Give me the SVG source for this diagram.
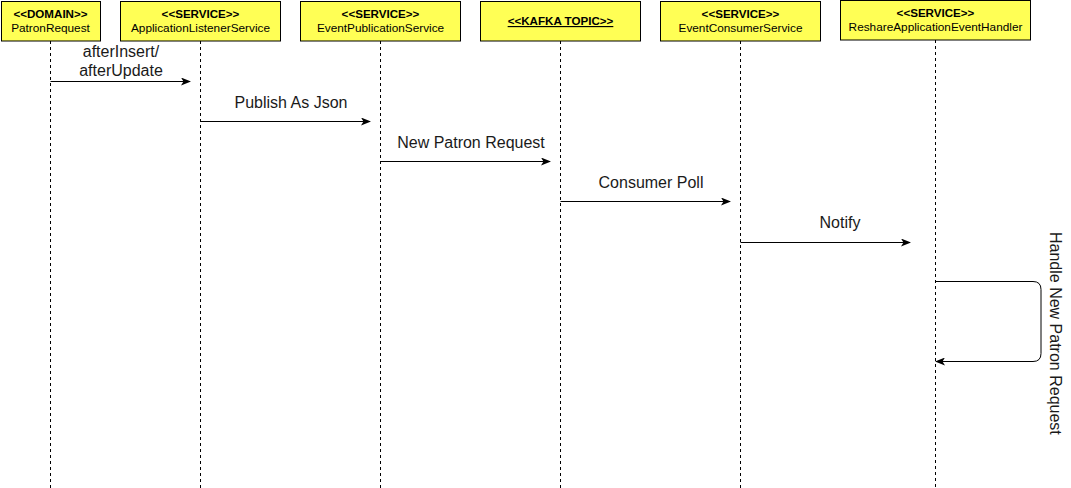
<svg xmlns="http://www.w3.org/2000/svg" width="1071" height="488" viewBox="0 0 1071 488">
<defs>
<style>
.box{fill:#ffff55;stroke:#000;stroke-width:1}
.life{stroke:#000;stroke-width:1;stroke-dasharray:3 3;fill:none}
.st{font-family:"Liberation Sans",Arial,sans-serif;font-size:11.6px;font-weight:bold;text-anchor:middle;fill:#000}
.nm{font-family:"Liberation Sans",Arial,sans-serif;font-size:11.8px;text-anchor:middle;fill:#000}
.msg{stroke:#000;stroke-width:1;fill:none;marker-end:url(#ah)}
.lbl{font-family:"Liberation Sans",Arial,sans-serif;font-size:16px;text-anchor:middle;fill:#1a1a1a}
</style>
<marker id="ah" markerWidth="10" markerHeight="8" refX="9" refY="4" orient="auto" markerUnits="userSpaceOnUse">
<path d="M0,0 L10,4 L0,8 L2.5,4 Z" fill="#000"/>
</marker>
</defs>
<rect width="1071" height="488" fill="#fff"/>
<g id="lifelines">
<line class="life" x1="50.5" y1="41" x2="50.5" y2="488"/>
<line class="life" x1="200.5" y1="41" x2="200.5" y2="488"/>
<line class="life" x1="380.5" y1="41" x2="380.5" y2="488"/>
<line class="life" x1="560.5" y1="41" x2="560.5" y2="488"/>
<line class="life" x1="740.5" y1="41" x2="740.5" y2="488"/>
<line class="life" x1="935.5" y1="40" x2="935.5" y2="488"/>
</g>
<g id="node-patronrequest">
<rect class="box" x="1.5" y="1.5" width="99" height="39.5"/>
<text class="st" x="50.5" y="18">&lt;&lt;DOMAIN&gt;&gt;</text>
<text class="nm" x="50.5" y="32">PatronRequest</text>
</g>
<g id="node-applicationlistener">
<rect class="box" x="120.5" y="1.5" width="160" height="39.5"/>
<text class="st" x="200.5" y="18">&lt;&lt;SERVICE&gt;&gt;</text>
<text class="nm" x="200.5" y="32">ApplicationListenerService</text>
</g>
<g id="node-eventpublication">
<rect class="box" x="300.5" y="1.5" width="160" height="39.5"/>
<text class="st" x="380.5" y="18">&lt;&lt;SERVICE&gt;&gt;</text>
<text class="nm" x="380.5" y="32">EventPublicationService</text>
</g>
<g id="node-kafka">
<rect class="box" x="480.5" y="1.5" width="160" height="39.5"/>
<text class="st" x="560.5" y="25" text-decoration="underline">&lt;&lt;KAFKA TOPIC&gt;&gt;</text>
</g>
<g id="node-eventconsumer">
<rect class="box" x="660.5" y="1.5" width="160" height="39.5"/>
<text class="st" x="740.5" y="18">&lt;&lt;SERVICE&gt;&gt;</text>
<text class="nm" x="740.5" y="32">EventConsumerService</text>
</g>
<g id="node-reshare">
<rect class="box" x="840.5" y="0.5" width="190" height="39.5"/>
<text class="st" x="935.5" y="17">&lt;&lt;SERVICE&gt;&gt;</text>
<text class="nm" x="935.5" y="31">ReshareApplicationEventHandler</text>
</g>
<g id="connectors">
<line class="msg" x1="50.5" y1="81.5" x2="190" y2="81.5"/>
<text class="lbl" x="121" y="57">afterInsert/</text>
<text class="lbl" x="121" y="76">afterUpdate</text>
<line class="msg" x1="200.5" y1="121.5" x2="370" y2="121.5"/>
<text class="lbl" x="291" y="108">Publish As Json</text>
<line class="msg" x1="380.5" y1="161.5" x2="550" y2="161.5"/>
<text class="lbl" x="471" y="148">New Patron Request</text>
<line class="msg" x1="560.5" y1="201.5" x2="730" y2="201.5"/>
<text class="lbl" x="651" y="188">Consumer Poll</text>
<line class="msg" x1="740.5" y1="242.5" x2="910" y2="242.5"/>
<text class="lbl" x="840" y="228">Notify</text>
<path class="msg" d="M935.5,281.5 H1033 Q1041,281.5 1041,289.5 V353.5 Q1041,361.5 1033,361.5 H936"/>
<text class="lbl" style="text-anchor:start" transform="translate(1050,232) rotate(90)">Handle New Patron Request</text>
</g>
</svg>
